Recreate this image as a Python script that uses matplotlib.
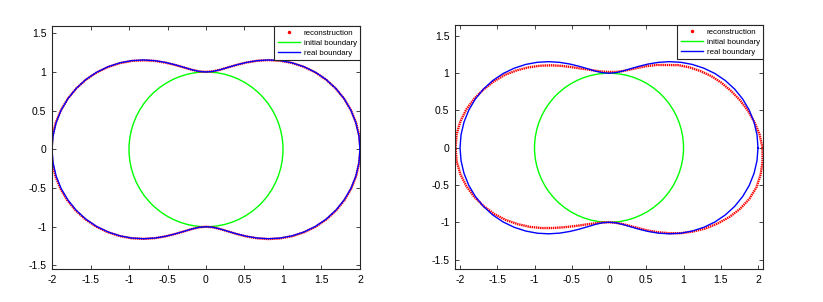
import matplotlib.pyplot as plt
import numpy as np
from matplotlib.lines import Line2D
from matplotlib.patches import Circle

plt.rcParams.update({'font.size': 7.5, 'font.family': 'Liberation Sans'})

# Boundary radius, every 5 degrees from 0 to 355
theta_deg = list(range(0, 360, 5))

real_r = [2.000, 1.994, 1.977, 1.949, 1.910, 1.861, 1.803, 1.736, 1.661, 1.581, 1.497, 1.410,
          1.323, 1.239, 1.162, 1.096, 1.044, 1.011, 1.000, 1.011, 1.044, 1.096, 1.162, 1.239,
          1.323, 1.410, 1.497, 1.581, 1.661, 1.736, 1.803, 1.861, 1.910, 1.949, 1.977, 1.994,
          2.000, 1.994, 1.977, 1.949, 1.910, 1.861, 1.803, 1.736, 1.661, 1.581, 1.497, 1.410,
          1.323, 1.239, 1.162, 1.096, 1.044, 1.011, 1.000, 1.011, 1.044, 1.096, 1.162, 1.239,
          1.323, 1.410, 1.497, 1.581, 1.661, 1.736, 1.803, 1.861, 1.910, 1.949, 1.977, 1.994]

# reconstruction, left panel (almost on top of the real boundary)
recon_left_r = [2.005, 1.998, 1.979, 1.950, 1.910, 1.860, 1.801, 1.734, 1.659, 1.579, 1.495, 1.408,
                1.321, 1.238, 1.161, 1.096, 1.044, 1.012, 1.001, 1.011, 1.043, 1.094, 1.159, 1.235,
                1.319, 1.405, 1.492, 1.577, 1.657, 1.733, 1.801, 1.860, 1.911, 1.952, 1.982, 2.001,
                2.009, 2.004, 1.987, 1.958, 1.918, 1.868, 1.809, 1.741, 1.665, 1.585, 1.500, 1.412,
                1.325, 1.240, 1.163, 1.097, 1.045, 1.011, 1.000, 1.011, 1.045, 1.097, 1.164, 1.242,
                1.327, 1.415, 1.502, 1.586, 1.666, 1.741, 1.808, 1.866, 1.915, 1.953, 1.981, 1.997]

# reconstruction, right panel
recon_right_r = [2.060, 2.029, 1.982, 1.929, 1.870, 1.806, 1.743, 1.676, 1.601, 1.526, 1.447, 1.355,
                 1.283, 1.209, 1.142, 1.086, 1.044, 1.021, 1.017, 1.026, 1.049, 1.086, 1.132, 1.194,
                 1.268, 1.350, 1.437, 1.526, 1.616, 1.706, 1.783, 1.856, 1.925, 1.984, 2.027, 2.054,
                 2.060, 2.054, 2.027, 1.984, 1.925, 1.856, 1.778, 1.691, 1.596, 1.501, 1.407, 1.315,
                 1.233, 1.164, 1.107, 1.061, 1.029, 1.006, 1.000, 1.011, 1.039, 1.086, 1.147, 1.224,
                 1.308, 1.400, 1.497, 1.591, 1.686, 1.776, 1.863, 1.941, 2.005, 2.049, 2.067, 2.069]

initial_radius = 1.0

xticks = [-2, -1.5, -1, -0.5, 0, 0.5, 1, 1.5, 2]
yticks = [-1.5, -1, -0.5, 0, 0.5, 1, 1.5]
legend_labels = ['reconstruction', 'initial boundary', 'real boundary']


def to_xy(r):
    t = np.deg2rad(np.append(theta_deg, 360))
    r = np.append(r, r[0])
    return r * np.cos(t), r * np.sin(t)


fig = plt.figure(figsize=(8.23, 3.02), dpi=100)
ax1 = fig.add_axes([0.0632, 0.1093, 0.3742, 0.8046])
ax2 = fig.add_axes([0.5529, 0.1093, 0.3742, 0.8079])

panels = [(ax1, recon_left_r, (-2, 2), (-1.546, 1.594)),
          (ax2, recon_right_r, (-2.067, 2.067), (-1.627, 1.647))]

for ax, recon_r, xlim, ylim in panels:
    rx, ry = to_xy(recon_r)
    bx, by = to_xy(real_r)
    # dense red dots drawn as a tight dotted line
    ax.plot(rx, ry, color='red', linestyle=(0, (0.6, 0.3)), linewidth=1.7)
    ax.add_patch(Circle((0, 0), initial_radius, fill=False, edgecolor=(0, 1, 0), linewidth=1.0))
    ax.plot(bx, by, color='blue', linewidth=1.0)

    ax.set_xlim(xlim)
    ax.set_ylim(ylim)
    ax.set_xticks(xticks)
    ax.set_yticks(yticks)
    ax.set_xticklabels([f'{v:g}' for v in xticks])
    ax.set_yticklabels([f'{v:g}' for v in yticks])
    ax.tick_params(direction='in', length=3, width=0.6, top=True, right=True,
                   colors='0.15', labelcolor='black', pad=4)
    for s in ax.spines.values():
        s.set_color('0.15')
        s.set_linewidth(0.8)

    handles = [Line2D([], [], color='red', marker='.', markersize=3, linestyle='none'),
               Line2D([], [], color=(0, 1, 0), linewidth=1.0),
               Line2D([], [], color='blue', linewidth=1.0)]
    leg = ax.legend(handles, legend_labels, loc='upper right', fontsize=5.7,
                    borderaxespad=0, fancybox=False, edgecolor='0.15', framealpha=1,
                    handlelength=2.8, labelspacing=0.3, borderpad=0.4, handletextpad=0.5)
    leg.get_frame().set_linewidth(0.8)

plt.savefig('out.png', dpi=100)
